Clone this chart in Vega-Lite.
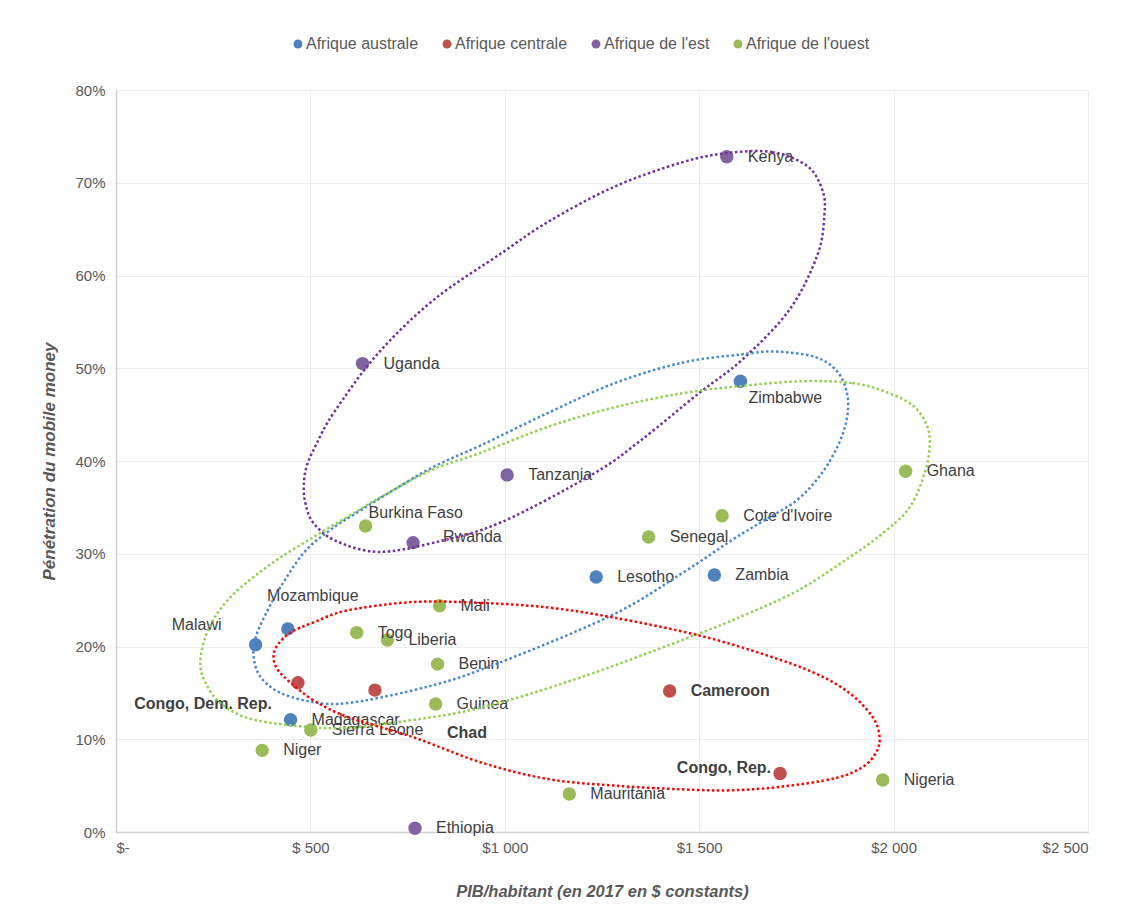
{
  "$schema": "https://vega.github.io/schema/vega-lite/v6.json",
  "width": 972,
  "height": 742,
  "autosize": "none",
  "padding": {"left": 116, "top": 90, "right": 43, "bottom": 82},
  "background": "white",
  "config": {
    "font": "Liberation Sans",
    "view": {"stroke": null},
    "axis": {
      "gridColor": "#ededed",
      "gridWidth": 1,
      "domainColor": "#d0d0d0",
      "domainWidth": 1.5,
      "ticks": false,
      "labelColor": "#595959",
      "labelFontSize": 15,
      "titleColor": "#595959",
      "titleFontSize": 16.5,
      "titleFontStyle": "italic",
      "titleFontWeight": "bold"
    }
  },
  "datasets": {
    "pays": [
      {"pays": "Kenya", "region": "Afrique de l'est", "pib": 1571, "taux": 0.728},
      {"pays": "Uganda", "region": "Afrique de l'est", "pib": 634, "taux": 0.505},
      {"pays": "Tanzania", "region": "Afrique de l'est", "pib": 1006, "taux": 0.385},
      {"pays": "Rwanda", "region": "Afrique de l'est", "pib": 764, "taux": 0.312},
      {"pays": "Ethiopia", "region": "Afrique de l'est", "pib": 769, "taux": 0.004},
      {"pays": "Zimbabwe", "region": "Afrique australe", "pib": 1606, "taux": 0.486},
      {"pays": "Lesotho", "region": "Afrique australe", "pib": 1235, "taux": 0.275},
      {"pays": "Zambia", "region": "Afrique australe", "pib": 1539, "taux": 0.277},
      {"pays": "Mozambique", "region": "Afrique australe", "pib": 442, "taux": 0.219},
      {"pays": "Malawi", "region": "Afrique australe", "pib": 359, "taux": 0.202},
      {"pays": "Madagascar", "region": "Afrique australe", "pib": 449, "taux": 0.121},
      {"pays": "Congo, Dem. Rep.", "region": "Afrique centrale", "pib": 468, "taux": 0.161},
      {"pays": "Chad", "region": "Afrique centrale", "pib": 666, "taux": 0.153},
      {"pays": "Cameroon", "region": "Afrique centrale", "pib": 1424, "taux": 0.152},
      {"pays": "Congo, Rep.", "region": "Afrique centrale", "pib": 1708, "taux": 0.063},
      {"pays": "Ghana", "region": "Afrique de l'ouest", "pib": 2031, "taux": 0.389},
      {"pays": "Cote d'Ivoire", "region": "Afrique de l'ouest", "pib": 1559, "taux": 0.341},
      {"pays": "Senegal", "region": "Afrique de l'ouest", "pib": 1370, "taux": 0.318},
      {"pays": "Burkina Faso", "region": "Afrique de l'ouest", "pib": 642, "taux": 0.330},
      {"pays": "Mali", "region": "Afrique de l'ouest", "pib": 832, "taux": 0.244},
      {"pays": "Togo", "region": "Afrique de l'ouest", "pib": 619, "taux": 0.215},
      {"pays": "Liberia", "region": "Afrique de l'ouest", "pib": 698, "taux": 0.207},
      {"pays": "Benin", "region": "Afrique de l'ouest", "pib": 827, "taux": 0.181},
      {"pays": "Guinea", "region": "Afrique de l'ouest", "pib": 822, "taux": 0.138},
      {"pays": "Sierra Leone", "region": "Afrique de l'ouest", "pib": 501, "taux": 0.110},
      {"pays": "Niger", "region": "Afrique de l'ouest", "pib": 376, "taux": 0.088},
      {"pays": "Mauritania", "region": "Afrique de l'ouest", "pib": 1166, "taux": 0.041},
      {"pays": "Nigeria", "region": "Afrique de l'ouest", "pib": 1972, "taux": 0.056}
    ],
    "ellipses": [
      {"groupe": "est", "i": 1, "pib": 1572, "taux": 0.732},
      {"groupe": "est", "i": 2, "pib": 1688, "taux": 0.733},
      {"groupe": "est", "i": 3, "pib": 1778, "taux": 0.718},
      {"groupe": "est", "i": 4, "pib": 1817, "taux": 0.692},
      {"groupe": "est", "i": 5, "pib": 1822, "taux": 0.665},
      {"groupe": "est", "i": 6, "pib": 1804, "taux": 0.622},
      {"groupe": "est", "i": 7, "pib": 1732, "taux": 0.563},
      {"groupe": "est", "i": 8, "pib": 1610, "taux": 0.509},
      {"groupe": "est", "i": 9, "pib": 1499, "taux": 0.473},
      {"groupe": "est", "i": 10, "pib": 1352, "taux": 0.423},
      {"groupe": "est", "i": 11, "pib": 1231, "taux": 0.387},
      {"groupe": "est", "i": 12, "pib": 991, "taux": 0.334},
      {"groupe": "est", "i": 13, "pib": 818, "taux": 0.312},
      {"groupe": "est", "i": 14, "pib": 674, "taux": 0.302},
      {"groupe": "est", "i": 15, "pib": 565, "taux": 0.314},
      {"groupe": "est", "i": 16, "pib": 508, "taux": 0.333},
      {"groupe": "est", "i": 17, "pib": 488, "taux": 0.353},
      {"groupe": "est", "i": 18, "pib": 483, "taux": 0.372},
      {"groupe": "est", "i": 19, "pib": 490, "taux": 0.394},
      {"groupe": "est", "i": 20, "pib": 514, "taux": 0.417},
      {"groupe": "est", "i": 21, "pib": 560, "taux": 0.452},
      {"groupe": "est", "i": 22, "pib": 674, "taux": 0.516},
      {"groupe": "est", "i": 23, "pib": 818, "taux": 0.574},
      {"groupe": "est", "i": 24, "pib": 991, "taux": 0.624},
      {"groupe": "est", "i": 25, "pib": 1112, "taux": 0.658},
      {"groupe": "est", "i": 26, "pib": 1283, "taux": 0.696},
      {"groupe": "est", "i": 27, "pib": 1456, "taux": 0.722},

      {"groupe": "australe", "i": 1, "pib": 1696, "taux": 0.518},
      {"groupe": "australe", "i": 2, "pib": 1799, "taux": 0.512},
      {"groupe": "australe", "i": 3, "pib": 1856, "taux": 0.496},
      {"groupe": "australe", "i": 4, "pib": 1881, "taux": 0.471},
      {"groupe": "australe", "i": 5, "pib": 1879, "taux": 0.444},
      {"groupe": "australe", "i": 6, "pib": 1855, "taux": 0.415},
      {"groupe": "australe", "i": 7, "pib": 1812, "taux": 0.385},
      {"groupe": "australe", "i": 8, "pib": 1752, "taux": 0.358},
      {"groupe": "australe", "i": 9, "pib": 1667, "taux": 0.336},
      {"groupe": "australe", "i": 10, "pib": 1585, "taux": 0.315},
      {"groupe": "australe", "i": 11, "pib": 1456, "taux": 0.279},
      {"groupe": "australe", "i": 12, "pib": 1267, "taux": 0.232},
      {"groupe": "australe", "i": 13, "pib": 939, "taux": 0.175},
      {"groupe": "australe", "i": 14, "pib": 766, "taux": 0.153},
      {"groupe": "australe", "i": 15, "pib": 596, "taux": 0.139},
      {"groupe": "australe", "i": 16, "pib": 508, "taux": 0.140},
      {"groupe": "australe", "i": 17, "pib": 423, "taux": 0.150},
      {"groupe": "australe", "i": 18, "pib": 372, "taux": 0.167},
      {"groupe": "australe", "i": 19, "pib": 354, "taux": 0.189},
      {"groupe": "australe", "i": 20, "pib": 361, "taux": 0.212},
      {"groupe": "australe", "i": 21, "pib": 390, "taux": 0.239},
      {"groupe": "australe", "i": 22, "pib": 423, "taux": 0.264},
      {"groupe": "australe", "i": 23, "pib": 483, "taux": 0.301},
      {"groupe": "australe", "i": 24, "pib": 552, "taux": 0.326},
      {"groupe": "australe", "i": 25, "pib": 630, "taux": 0.347},
      {"groupe": "australe", "i": 26, "pib": 715, "taux": 0.369},
      {"groupe": "australe", "i": 27, "pib": 818, "taux": 0.394},
      {"groupe": "australe", "i": 28, "pib": 939, "taux": 0.417},
      {"groupe": "australe", "i": 29, "pib": 1112, "taux": 0.452},
      {"groupe": "australe", "i": 30, "pib": 1283, "taux": 0.484},
      {"groupe": "australe", "i": 31, "pib": 1456, "taux": 0.506},
      {"groupe": "australe", "i": 32, "pib": 1610, "taux": 0.515},

      {"groupe": "ouest", "i": 1, "pib": 1765, "taux": 0.486},
      {"groupe": "ouest", "i": 2, "pib": 1894, "taux": 0.484},
      {"groupe": "ouest", "i": 3, "pib": 1977, "taux": 0.475},
      {"groupe": "ouest", "i": 4, "pib": 2049, "taux": 0.460},
      {"groupe": "ouest", "i": 5, "pib": 2085, "taux": 0.439},
      {"groupe": "ouest", "i": 6, "pib": 2093, "taux": 0.417},
      {"groupe": "ouest", "i": 7, "pib": 2080, "taux": 0.387},
      {"groupe": "ouest", "i": 8, "pib": 2041, "taux": 0.350},
      {"groupe": "ouest", "i": 9, "pib": 1972, "taux": 0.322},
      {"groupe": "ouest", "i": 10, "pib": 1886, "taux": 0.296},
      {"groupe": "ouest", "i": 11, "pib": 1757, "taux": 0.261},
      {"groupe": "ouest", "i": 12, "pib": 1628, "taux": 0.236},
      {"groupe": "ouest", "i": 13, "pib": 1494, "taux": 0.213},
      {"groupe": "ouest", "i": 14, "pib": 1197, "taux": 0.167},
      {"groupe": "ouest", "i": 15, "pib": 939, "taux": 0.134},
      {"groupe": "ouest", "i": 16, "pib": 733, "taux": 0.119},
      {"groupe": "ouest", "i": 17, "pib": 578, "taux": 0.112},
      {"groupe": "ouest", "i": 18, "pib": 449, "taux": 0.115},
      {"groupe": "ouest", "i": 19, "pib": 338, "taux": 0.123},
      {"groupe": "ouest", "i": 20, "pib": 268, "taux": 0.139},
      {"groupe": "ouest", "i": 21, "pib": 230, "taux": 0.161},
      {"groupe": "ouest", "i": 22, "pib": 217, "taux": 0.180},
      {"groupe": "ouest", "i": 23, "pib": 225, "taux": 0.204},
      {"groupe": "ouest", "i": 24, "pib": 250, "taux": 0.229},
      {"groupe": "ouest", "i": 25, "pib": 294, "taux": 0.253},
      {"groupe": "ouest", "i": 26, "pib": 354, "taux": 0.275},
      {"groupe": "ouest", "i": 27, "pib": 423, "taux": 0.296},
      {"groupe": "ouest", "i": 28, "pib": 508, "taux": 0.318},
      {"groupe": "ouest", "i": 29, "pib": 596, "taux": 0.340},
      {"groupe": "ouest", "i": 30, "pib": 681, "taux": 0.361},
      {"groupe": "ouest", "i": 31, "pib": 810, "taux": 0.390},
      {"groupe": "ouest", "i": 32, "pib": 939, "taux": 0.409},
      {"groupe": "ouest", "i": 33, "pib": 1112, "taux": 0.437},
      {"groupe": "ouest", "i": 34, "pib": 1283, "taux": 0.458},
      {"groupe": "ouest", "i": 35, "pib": 1456, "taux": 0.473},
      {"groupe": "ouest", "i": 36, "pib": 1610, "taux": 0.481},

      {"groupe": "centrale", "i": 1, "pib": 766, "taux": 0.248},
      {"groupe": "centrale", "i": 2, "pib": 939, "taux": 0.247},
      {"groupe": "centrale", "i": 3, "pib": 1112, "taux": 0.242},
      {"groupe": "centrale", "i": 4, "pib": 1283, "taux": 0.231},
      {"groupe": "centrale", "i": 5, "pib": 1499, "taux": 0.212},
      {"groupe": "centrale", "i": 6, "pib": 1670, "taux": 0.191},
      {"groupe": "centrale", "i": 7, "pib": 1799, "taux": 0.171},
      {"groupe": "centrale", "i": 8, "pib": 1886, "taux": 0.150},
      {"groupe": "centrale", "i": 9, "pib": 1946, "taux": 0.124},
      {"groupe": "centrale", "i": 10, "pib": 1964, "taux": 0.102},
      {"groupe": "centrale", "i": 11, "pib": 1954, "taux": 0.085},
      {"groupe": "centrale", "i": 12, "pib": 1920, "taux": 0.070},
      {"groupe": "centrale", "i": 13, "pib": 1850, "taux": 0.058},
      {"groupe": "centrale", "i": 14, "pib": 1714, "taux": 0.049},
      {"groupe": "centrale", "i": 15, "pib": 1585, "taux": 0.045},
      {"groupe": "centrale", "i": 16, "pib": 1456, "taux": 0.046},
      {"groupe": "centrale", "i": 17, "pib": 1283, "taux": 0.050},
      {"groupe": "centrale", "i": 18, "pib": 1112, "taux": 0.057},
      {"groupe": "centrale", "i": 19, "pib": 939, "taux": 0.075},
      {"groupe": "centrale", "i": 20, "pib": 766, "taux": 0.102},
      {"groupe": "centrale", "i": 21, "pib": 596, "taux": 0.124},
      {"groupe": "centrale", "i": 22, "pib": 508, "taux": 0.142},
      {"groupe": "centrale", "i": 23, "pib": 449, "taux": 0.161},
      {"groupe": "centrale", "i": 24, "pib": 416, "taux": 0.175},
      {"groupe": "centrale", "i": 25, "pib": 405, "taux": 0.189},
      {"groupe": "centrale", "i": 26, "pib": 416, "taux": 0.202},
      {"groupe": "centrale", "i": 27, "pib": 449, "taux": 0.215},
      {"groupe": "centrale", "i": 28, "pib": 508, "taux": 0.226},
      {"groupe": "centrale", "i": 29, "pib": 596, "taux": 0.239}
    ]
  },
  "encoding": {
    "x": {
      "field": "pib",
      "type": "quantitative",
      "scale": {"domain": [0, 2500], "nice": false, "zero": true},
      "axis": {
        "values": [0, 500, 1000, 1500, 2000, 2500],
        "labelExpr": "datum.value == 0 ? '$-' : (datum.value < 1000 ? '$ ' + datum.value : '$' + floor(datum.value / 1000) + ' ' + slice('00' + (datum.value % 1000), -3))",
        "labelPadding": 8,
        "title": "PIB/habitant (en 2017 en $ constants)",
        "titlePadding": 28
      }
    },
    "y": {
      "field": "taux",
      "type": "quantitative",
      "scale": {"domain": [0, 0.8], "nice": false},
      "axis": {
        "values": [0, 0.1, 0.2, 0.3, 0.4, 0.5, 0.6, 0.7, 0.8],
        "format": ".0%",
        "labelPadding": 11,
        "title": "Pénétration du mobile money",
        "titlePadding": 16,
        "titleFontSize": 17
      }
    }
  },
  "layer": [
    {
      "data": {"name": "pays"},
      "mark": {"type": "point", "filled": true, "size": 180, "opacity": 1},
      "encoding": {
        "color": {
          "field": "region",
          "type": "nominal",
          "scale": {
            "domain": ["Afrique australe", "Afrique centrale", "Afrique de l'est", "Afrique de l'ouest"],
            "range": ["#4F81BD", "#C0504D", "#8064A2", "#9BBB59"]
          },
          "legend": {
            "orient": "none",
            "legendX": 174,
            "legendY": -54,
            "direction": "horizontal",
            "title": null,
            "symbolType": "circle",
            "symbolSize": 80,
            "symbolStrokeWidth": 0,
            "labelFontSize": 16,
            "labelColor": "#595959",
            "labelOffset": 0,
            "columnPadding": 20
          }
        }
      }
    },
    {
      "data": {"name": "pays"},
      "transform": [{"filter": "indexof(['Zimbabwe','Burkina Faso','Mozambique','Malawi','Rwanda','Congo, Dem. Rep.','Chad','Congo, Rep.','Cameroon'], datum.pays) < 0"}],
      "mark": {"type": "text", "align": "left", "baseline": "middle", "dx": 21, "fontSize": 16, "color": "#404040"},
      "encoding": {"text": {"field": "pays"}}
    },
    {
      "data": {"name": "pays"},
      "transform": [{"filter": "datum.pays == 'Zimbabwe'"}],
      "mark": {"type": "text", "align": "left", "baseline": "middle", "dx": 8, "dy": 17, "fontSize": 16, "color": "#404040"},
      "encoding": {"text": {"field": "pays"}}
    },
    {
      "data": {"name": "pays"},
      "transform": [{"filter": "datum.pays == 'Burkina Faso'"}],
      "mark": {"type": "text", "align": "left", "baseline": "middle", "dx": 3, "dy": -13, "fontSize": 16, "color": "#404040"},
      "encoding": {"text": {"field": "pays"}}
    },
    {
      "data": {"name": "pays"},
      "transform": [{"filter": "datum.pays == 'Mozambique'"}],
      "mark": {"type": "text", "align": "center", "baseline": "middle", "dx": 25, "dy": -33, "fontSize": 16, "color": "#404040"},
      "encoding": {"text": {"field": "pays"}}
    },
    {
      "data": {"name": "pays"},
      "transform": [{"filter": "datum.pays == 'Malawi'"}],
      "mark": {"type": "text", "align": "right", "baseline": "middle", "dx": -34, "dy": -20, "fontSize": 16, "color": "#404040"},
      "encoding": {"text": {"field": "pays"}}
    },
    {
      "data": {"name": "pays"},
      "transform": [{"filter": "datum.pays == 'Rwanda'"}],
      "mark": {"type": "text", "align": "left", "baseline": "middle", "dx": 30, "dy": -6, "fontSize": 16, "color": "#404040"},
      "encoding": {"text": {"field": "pays"}}
    },
    {
      "data": {"name": "pays"},
      "transform": [{"filter": "datum.pays == 'Cameroon'"}],
      "mark": {"type": "text", "align": "left", "baseline": "middle", "dx": 21, "fontSize": 16, "fontWeight": "bold", "color": "#404040"},
      "encoding": {"text": {"field": "pays"}}
    },
    {
      "data": {"name": "pays"},
      "transform": [{"filter": "datum.pays == 'Congo, Dem. Rep.'"}],
      "mark": {"type": "text", "align": "right", "baseline": "middle", "dx": -26, "dy": 21, "fontSize": 16, "fontWeight": "bold", "color": "#404040"},
      "encoding": {"text": {"field": "pays"}}
    },
    {
      "data": {"name": "pays"},
      "transform": [{"filter": "datum.pays == 'Chad'"}],
      "mark": {"type": "text", "align": "left", "baseline": "middle", "dx": 72, "dy": 43, "fontSize": 16, "fontWeight": "bold", "color": "#404040"},
      "encoding": {"text": {"field": "pays"}}
    },
    {
      "data": {"name": "pays"},
      "transform": [{"filter": "datum.pays == 'Congo, Rep.'"}],
      "mark": {"type": "text", "align": "right", "baseline": "middle", "dx": -9, "dy": -6, "fontSize": 16, "fontWeight": "bold", "color": "#404040"},
      "encoding": {"text": {"field": "pays"}}
    },
    {
      "data": {"name": "ellipses"},
      "transform": [{"filter": "datum.groupe == 'est'"}],
      "mark": {"type": "line", "interpolate": "cardinal-closed", "color": "#7030A0", "strokeWidth": 2.5, "strokeDash": [2.5, 2.5]},
      "encoding": {"order": {"field": "i", "type": "quantitative"}}
    },
    {
      "data": {"name": "ellipses"},
      "transform": [{"filter": "datum.groupe == 'australe'"}],
      "mark": {"type": "line", "interpolate": "cardinal-closed", "color": "#4A89CF", "strokeWidth": 2.5, "strokeDash": [2.5, 2.5]},
      "encoding": {"order": {"field": "i", "type": "quantitative"}}
    },
    {
      "data": {"name": "ellipses"},
      "transform": [{"filter": "datum.groupe == 'ouest'"}],
      "mark": {"type": "line", "interpolate": "cardinal-closed", "color": "#92D050", "strokeWidth": 2.5, "strokeDash": [2.5, 2.5]},
      "encoding": {"order": {"field": "i", "type": "quantitative"}}
    },
    {
      "data": {"name": "ellipses"},
      "transform": [{"filter": "datum.groupe == 'centrale'"}],
      "mark": {"type": "line", "interpolate": "cardinal-closed", "color": "#FF0000", "strokeWidth": 2.5, "strokeDash": [2.5, 2.5]},
      "encoding": {"order": {"field": "i", "type": "quantitative"}}
    }
  ]
}
